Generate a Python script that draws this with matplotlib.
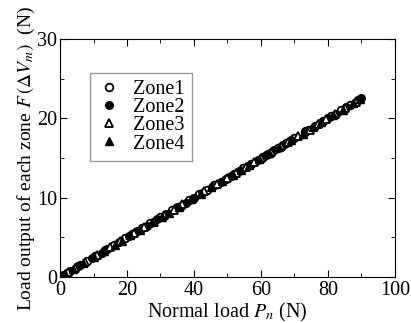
import numpy as np
import matplotlib.pyplot as plt
from matplotlib.ticker import MultipleLocator

plt.rcParams['font.family'] = 'Liberation Serif'
plt.rcParams['mathtext.fontset'] = 'stix'

# zone data: normal load (N) vs load output (N)
x_zone1 = [0.3, 2.0, 5.5, 8.0, 10.5, 13.5, 16.0, 19.5, 21.5, 24.5, 27.0, 30.0, 33.5, 36.0, 38.5, 41.5, 44.0, 46.0, 49.5, 52.0, 54.5, 57.0, 60.5, 62.0, 65.0, 67.5, 70.0, 73.0, 76.0, 78.5, 81.0, 84.0, 86.5, 89.0]
y_zone1 = [0.1, 0.5, 1.4, 2.0, 2.7, 3.4, 4.0, 4.9, 5.4, 6.2, 6.8, 7.6, 8.4, 9.0, 9.7, 10.5, 11.0, 11.6, 12.4, 13.0, 13.7, 14.3, 15.2, 15.5, 16.3, 16.9, 17.5, 18.3, 19.1, 19.7, 20.3, 21.0, 21.7, 22.3]
x_zone2 = [0.5, 1.0, 3.0, 6.0, 9.5, 12.5, 14.0, 17.5, 20.5, 23.0, 26.0, 29.0, 31.5, 35.0, 37.5, 40.0, 42.5, 45.5, 48.0, 51.0, 53.5, 56.0, 59.0, 61.5, 64.0, 66.5, 69.0, 73.0, 74.0, 77.5, 80.0, 82.5, 85.5, 90.0]
y_zone2 = [0.1, 0.3, 0.8, 1.5, 2.4, 3.1, 3.5, 4.4, 5.2, 5.8, 6.5, 7.3, 7.9, 8.8, 9.4, 10.0, 10.6, 11.4, 12.0, 12.8, 13.4, 14.0, 14.8, 15.4, 16.0, 16.6, 17.3, 18.4, 18.6, 19.4, 20.0, 20.6, 21.4, 22.6]
x_zone3 = [0.2, 2.5, 4.5, 7.5, 11.0, 15.0, 18.0, 22.0, 25.0, 28.0, 31.0, 34.0, 36.5, 39.5, 43.0, 47.0, 50.0, 52.5, 55.5, 58.0, 60.0, 63.0, 66.0, 68.0, 71.0, 74.5, 77.0, 79.5, 82.0, 85.0, 88.5]
y_zone3 = [0.0, 0.6, 1.1, 1.9, 2.8, 3.8, 4.5, 5.5, 6.3, 7.0, 7.8, 8.5, 9.2, 9.9, 10.8, 11.8, 12.5, 13.1, 13.9, 14.5, 15.0, 15.8, 16.5, 17.0, 17.8, 18.6, 19.3, 19.9, 20.5, 21.3, 22.1]
x_zone4 = [0.0, 1.5, 4.0, 7.0, 10.0, 13.0, 16.5, 18.5, 21.0, 24.0, 27.5, 30.5, 32.5, 35.5, 39.0, 42.0, 45.0, 48.5, 51.5, 54.0, 56.5, 59.5, 62.5, 65.5, 69.0, 72.5, 75.5, 78.0, 81.5, 84.5, 87.5, 89.5]
y_zone4 = [0.0, 0.4, 1.0, 1.8, 2.5, 3.3, 4.1, 4.6, 5.3, 6.0, 6.9, 7.6, 8.1, 8.9, 9.8, 10.5, 11.3, 12.1, 12.9, 13.5, 14.1, 14.9, 15.6, 16.4, 17.3, 18.1, 18.9, 19.5, 20.4, 21.1, 21.9, 22.4]

fig = plt.figure(figsize=(4.11, 3.23), dpi=100)
ax = fig.add_axes([0.146, 0.142, 0.815, 0.737])

ms = 5.5
ax.plot(x_zone1, y_zone1, 'o', mfc='white', mec='black', mew=1.3, ms=ms, label='Zone1')
ax.plot(x_zone2, y_zone2, 'o', color='black', ms=ms, label='Zone2')
ax.plot(x_zone3, y_zone3, '^', mfc='white', mec='black', mew=1.3, ms=ms, label='Zone3')
ax.plot(x_zone4, y_zone4, '^', color='black', ms=ms, label='Zone4')

ax.set_xlim(0, 100)
ax.set_ylim(0, 30)
ax.xaxis.set_major_locator(MultipleLocator(20))
ax.xaxis.set_minor_locator(MultipleLocator(10))
ax.yaxis.set_major_locator(MultipleLocator(10))
ax.yaxis.set_minor_locator(MultipleLocator(5))
ax.tick_params(which='both', direction='in', top=True, right=True, labelsize=14.5)
ax.tick_params(axis='x', pad=2.5)
ax.tick_params(axis='y', pad=2)
ax.tick_params(which='major', length=5)
ax.tick_params(which='minor', length=3)

ax.set_xlabel(r'Normal load $P_n$ (N)', fontsize=14.5, labelpad=1)
ax.set_ylabel(r'Load output of each zone $F\,(\mathit{\Delta V_m})$  (N)', fontsize=14, labelpad=0)

leg = ax.legend(loc='upper left', bbox_to_anchor=(0.09, 0.857), fontsize=14.5, frameon=True,
                fancybox=False, edgecolor='gray', handlelength=1.2, handletextpad=0.6,
                borderpad=0.35, labelspacing=-0.05, borderaxespad=0)
leg.get_frame().set_linewidth(1.0)

plt.savefig('out.png', dpi=100)
